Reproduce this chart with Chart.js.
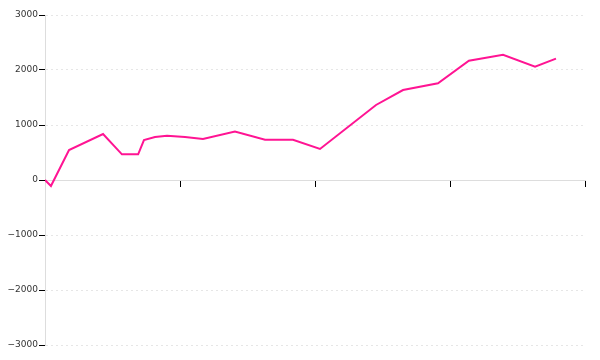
<!DOCTYPE html>
<html>
<head>
<meta charset="utf-8">
<script src="https://cdn.jsdelivr.net/npm/chart.js@4"></script>
<style>
  html, body { margin: 0; padding: 0; background: #fff; }
  #wrap { width: 600px; height: 360px; }
</style>
</head>
<body>
<div id="wrap"><canvas id="chart"></canvas></div>
<script>
// x positions (arbitrary linear units, ticks every 100) and values
const xValues = [0, 4.4, 17.8, 43, 57, 69, 73.3, 81.5, 90.4, 103.7, 117, 140.7, 163, 183.7, 203.7, 245.2, 265.2, 291.1, 314, 339.3, 363, 378.5];
const yValues = [0, -110, 545, 836, 467, 467, 727, 780, 805, 780, 745, 880, 733, 733, 564, 1364, 1636, 1758, 2170, 2278, 2060, 2206];
const xTicks = [0, 100, 200, 300, 400];
const yTicks = [-3000, -2000, -1000, 0, 1000, 2000, 3000];

const points = xValues.map((x, i) => ({ x: x, y: yValues[i] }));

const ctx = document.getElementById("chart").getContext("2d");
new Chart(ctx, {
  type: "line",
  data: {
    datasets: [{
      data: points,
      borderColor: "#ff1493",
      borderWidth: 2,
      pointRadius: 0,
      tension: 0,
      fill: false
    }]
  },
  options: {
    responsive: true,
    maintainAspectRatio: false,
    animation: false,
    layout: { padding: { top: 15, bottom: 15, right: 15, left: 0 } },
    plugins: {
      legend: { display: false },
      tooltip: { enabled: false }
    },
    scales: {
      x: {
        type: "linear",
        position: { y: 0 },
        min: xTicks[0],
        max: xTicks[xTicks.length - 1],
        afterBuildTicks: (scale) => { scale.ticks = xTicks.map(v => ({ value: v })); },
        ticks: { display: false },
        grid: { drawOnChartArea: false, drawTicks: true, tickLength: 6, tickColor: "#000", tickWidth: 1 },
        border: { color: "#dddddd", width: 1 }
      },
      y: {
        min: yTicks[0],
        max: yTicks[yTicks.length - 1],
        afterBuildTicks: (scale) => { scale.ticks = yTicks.map(v => ({ value: v })); },
        afterFit: (scale) => { scale.width = 45; },
        ticks: {
          padding: 1,
          color: "#333",
          font: { family: "DejaVu Sans", size: 9 },
          callback: (v) => (v < 0 ? "\u2212" + Math.abs(v) : String(v))
        },
        grid: { color: "#e6e6e6", tickLength: 6, tickColor: "#000", tickWidth: 1 },
        border: { color: "#dddddd", width: 1, dash: [2, 3] }
      }
    }
  }
});
</script>
</body>
</html>
